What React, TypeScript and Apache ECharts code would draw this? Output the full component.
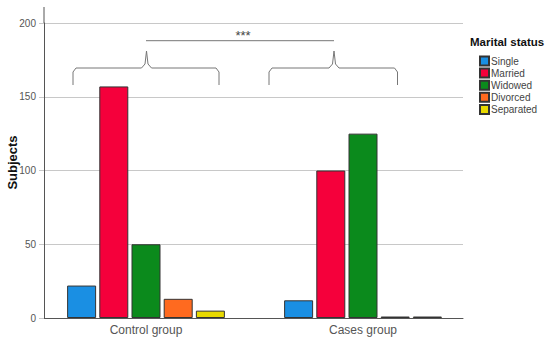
import React, { useEffect, useRef } from "react";
import * as echarts from "echarts";

const categories = ["Control group", "Cases group"];
const statuses = ["Single", "Married", "Widowed", "Divorced", "Separated"];
const single = [22, 12];
const married = [157, 100];
const widowed = [50, 125];
const divorced = [13, 1];
const separated = [5, 1];
const yTicks = { min: 0, max: 200, interval: 50 };
const colors = ["#1a8fe3", "#f5003b", "#0b8a1c", "#ff6a1f", "#e8d900"];

export default function App() {
  const ref = useRef<HTMLDivElement>(null);
  useEffect(() => {
    const chart = echarts.init(ref.current!, null, { renderer: "svg" });
    const values = [single, married, widowed, divorced, separated];
    const font = "Liberation Sans, Arial, sans-serif";
    const bracket = (l: number, c: number, r: number) => ({
      type: "polyline",
      shape: {
        points: [
          [l, 85], [l, 72], [l + 3, 68], [c - 5, 68], [c - 1.5, 64], [c, 51],
          [c + 1.5, 64], [c + 5, 68], [r - 3, 68], [r, 72], [r, 85],
        ],
      },
      style: { stroke: "#777", lineWidth: 1, fill: null },
    });
    chart.setOption({
      animation: false,
      textStyle: { fontFamily: font },
      grid: [
        { left: 44, right: 87, top: 23, bottom: 26 },
        { left: 37.5, right: 78.5, top: 23, bottom: 26 },
      ],
      xAxis: [
        {
          gridIndex: 0, type: "category", data: categories,
          axisLine: { show: true, lineStyle: { color: "#555" } },
          axisTick: { show: false }, axisLabel: { show: false },
        },
        {
          gridIndex: 1, type: "category", data: categories,
          axisLine: { show: false }, axisTick: { show: false },
          axisLabel: { fontSize: 12, color: "#555", margin: 6, fontFamily: font },
        },
      ],
      yAxis: [
        {
          gridIndex: 0, type: "value", ...yTicks,
          axisLine: { show: true, lineStyle: { color: "#555" } },
          axisTick: { show: true, length: 5, lineStyle: { color: "#c8c8c8" } },
          splitLine: { lineStyle: { color: "#c8c8c8" } },
          axisLabel: { fontSize: 10, color: "#555", margin: 8, fontFamily: font },
        },
        {
          gridIndex: 1, type: "value", ...yTicks, show: false,
          splitLine: { show: false },
        },
      ],
      title: {
        text: "Marital status", left: 470, top: 36,
        textStyle: { fontSize: 11.5, fontWeight: "bold", color: "#111", fontFamily: font },
        padding: 0,
      },
      legend: {
        orient: "vertical", left: 479, top: 55.5, itemWidth: 9, itemHeight: 9,
        itemGap: 1.1, padding: 0, icon: "rect",
        textStyle: { fontSize: 10, color: "#444", fontFamily: font, padding: [0, 0, 0, -3] },
        data: statuses,
      },
      series: statuses.map((s, i) => ({
        name: s, type: "bar", xAxisIndex: 1, yAxisIndex: 1,
        data: values[i], barWidth: 29, barGap: "11%",
        itemStyle: { color: colors[i], borderColor: "#333", borderWidth: 1 },
      })),
      graphic: [
        { type: "line", shape: { x1: 44, y1: 7, x2: 44, y2: 23 }, style: { stroke: "#555", lineWidth: 1 } },
        {
          type: "text", x: 12, y: 162.5, rotation: Math.PI / 2,
          style: { text: "Subjects", fontSize: 13, fontWeight: "bold", fill: "#111", fontFamily: font, textAlign: "center", textVerticalAlign: "middle" },
        },
        bracket(73, 146.5, 219),
        bracket(269, 334, 397.5),
        { type: "line", shape: { x1: 146, y1: 40.7, x2: 334, y2: 40.7 }, style: { stroke: "#777", lineWidth: 1 } },
        {
          type: "text", x: 243, y: 35,
          style: { text: "***", fontSize: 13, fill: "#444", fontFamily: font, textAlign: "center", textVerticalAlign: "middle" },
        },
      ],
    });
    return () => chart.dispose();
  }, []);
  return <div ref={ref} style={{ width: 550, height: 344, position: "absolute", left: 0, top: 0, background: "#fff" }} />;
}
